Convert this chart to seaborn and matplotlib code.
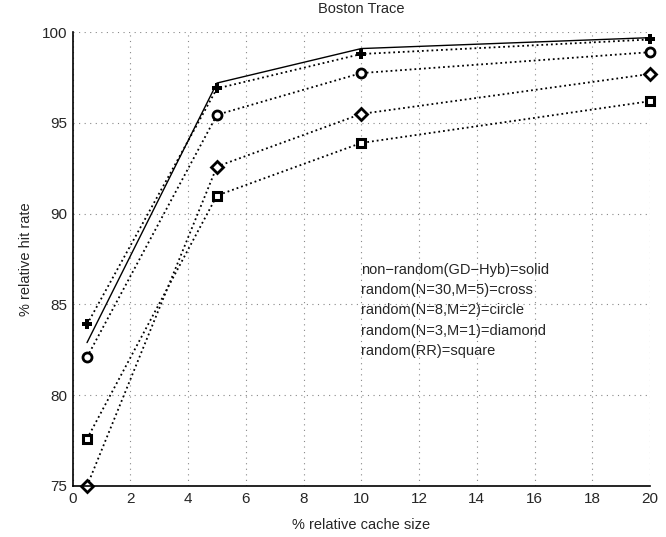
import matplotlib
matplotlib.use("Agg")
import matplotlib.pyplot as plt
import seaborn as sns
import pandas as pd

cache_size = [0.5, 5, 10, 20]
gd_hyb = [82.9, 97.2, 99.1, 99.7]
rand_n30_m5 = [83.9, 96.9, 98.8, 99.6]
rand_n8_m2 = [82.1, 95.45, 97.75, 98.9]
rand_n3_m1 = [75.0, 92.6, 95.5, 97.7]
rand_rr = [77.6, 91.0, 93.9, 96.2]

series_names = ["GD-Hyb", "N30M5", "N8M2", "N3M1", "RR"]
series_values = [gd_hyb, rand_n30_m5, rand_n8_m2, rand_n3_m1, rand_rr]

legend_lines = [
    "non\u2212random(GD\u2212Hyb)=solid",
    "random(N=30,M=5)=cross",
    "random(N=8,M=2)=circle",
    "random(N=3,M=1)=diamond",
    "random(RR)=square",
]

x_ticks = list(range(0, 21, 2))
y_ticks = [75, 80, 85, 90, 95, 100]

rows = []
for name, vals in zip(series_names, series_values):
    for x, v in zip(cache_size, vals):
        rows.append({"size": x, "rate": v, "series": name})
df = pd.DataFrame(rows)

sns.set_style("white")
plt.rcParams["font.family"] = ["Liberation Sans", "DejaVu Sans"]

fig = plt.figure(figsize=(6.66, 5.37), dpi=100)
ax = fig.add_axes([0.109, 0.095, 0.867, 0.845])

styles = {
    "GD-Hyb": dict(linestyle="-", marker=None),
    "N30M5": dict(linestyle=":", marker="P"),
    "N8M2": dict(linestyle=":", marker="o"),
    "N3M1": dict(linestyle=":", marker="D"),
    "RR": dict(linestyle=":", marker="s"),
}

for name in series_names:
    sub = df[df["series"] == name]
    st = styles[name]
    kw = {}
    if st["marker"] == "P":
        kw = dict(marker="P", markersize=7, markerfacecolor="black", markeredgecolor="black", markeredgewidth=0)
    elif st["marker"] == "o":
        kw = dict(marker="o", markersize=6.5, markerfacecolor="white", markeredgecolor="black", markeredgewidth=2)
    elif st["marker"] == "D":
        kw = dict(marker="D", markersize=6, markerfacecolor="white", markeredgecolor="black", markeredgewidth=2)
    elif st["marker"] == "s":
        kw = dict(marker="s", markersize=6, markerfacecolor="white", markeredgecolor="black", markeredgewidth=2.2)
    sns.lineplot(data=sub, x="size", y="rate", ax=ax, color="black",
                 linestyle=st["linestyle"], linewidth=1.3 if st["marker"] else 1.0,
                 clip_on=False, **kw)

ax.set_xlim(0, 20)
ax.set_ylim(75, 100)
ax.set_xticks(x_ticks)
ax.set_yticks(y_ticks)
ax.tick_params(direction="in", length=5, width=1, labelsize=11, color="black", pad=4)
ax.grid(True, linestyle=(0, (1, 4)), color="#888888", linewidth=0.8)
for side in ["top", "right"]:
    ax.spines[side].set_visible(False)
for side in ["left", "bottom"]:
    ax.spines[side].set_color("black")
    ax.spines[side].set_linewidth(1.2)

ax.set_title("Boston Trace", fontsize=10.5, pad=14)
ax.set_xlabel("% relative cache size", fontsize=10.5, labelpad=9)
ax.set_ylabel("% relative hit rate", fontsize=10.5, labelpad=6)

ax.text(10.0, 87.3, "\n".join(legend_lines), fontsize=10.5, va="top", ha="left",
        linespacing=1.58)

fig.savefig("out.png", dpi=100)
